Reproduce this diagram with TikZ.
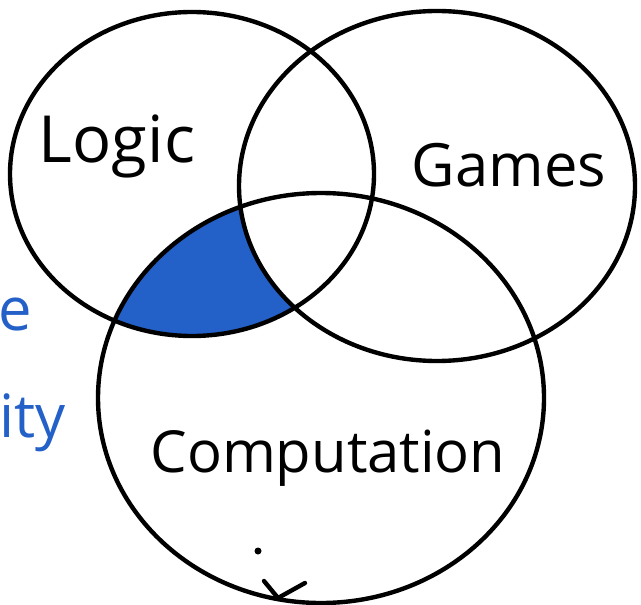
\documentclass[tikz,border=0pt]{standalone}
\usepackage{fontspec}
\setmainfont{Open Sans}
\definecolor{scribble}{RGB}{35,96,200}

\begin{document}
\begin{tikzpicture}[x=0.02cm,y=-0.02cm,line cap=round,line join=round]
\useasboundingbox (0,0) rectangle (641,604);
\coordinate (L) at (192,174);
\coordinate (G) at (437,186);
\coordinate (C) at (321,398);
% shaded part: logic and computation, not games
\begin{scope}
\clip (L) ellipse (182 and 162);
\clip (C) ellipse (223 and 205);
\fill[scribble,even odd rule] (0,0) rectangle (641,604) (G) ellipse (198 and 175);
\end{scope}
\draw[line width=2.5pt] (L) ellipse (182 and 162);
\draw[line width=2.5pt] (G) ellipse (198 and 175);
\draw[line width=2.5pt] (C) ellipse (223 and 205);
\fill (258,551) circle (3.5);
\draw[line width=2.5pt] (264,581) -- (278,598) -- (305,583);
\node[anchor=base,font=\fontsize{37}{40}\selectfont] (logic) at (117,163) {Logic};
\node[anchor=base,font=\fontsize{34}{40}\selectfont] (games) at (509,187) {Games};
\node[anchor=base,font=\fontsize{33}{40}\selectfont] (computation) at (328,472) {Computation};
\node[anchor=base east,inner sep=0pt,text=scribble,font=\fontsize{34}{40}\selectfont] (blue1) at (32,330) {e};
\node[anchor=base east,inner sep=0pt,text=scribble,font=\fontsize{34}{40}\selectfont] (blue2) at (66,437) {ity};
\end{tikzpicture}
\end{document}
